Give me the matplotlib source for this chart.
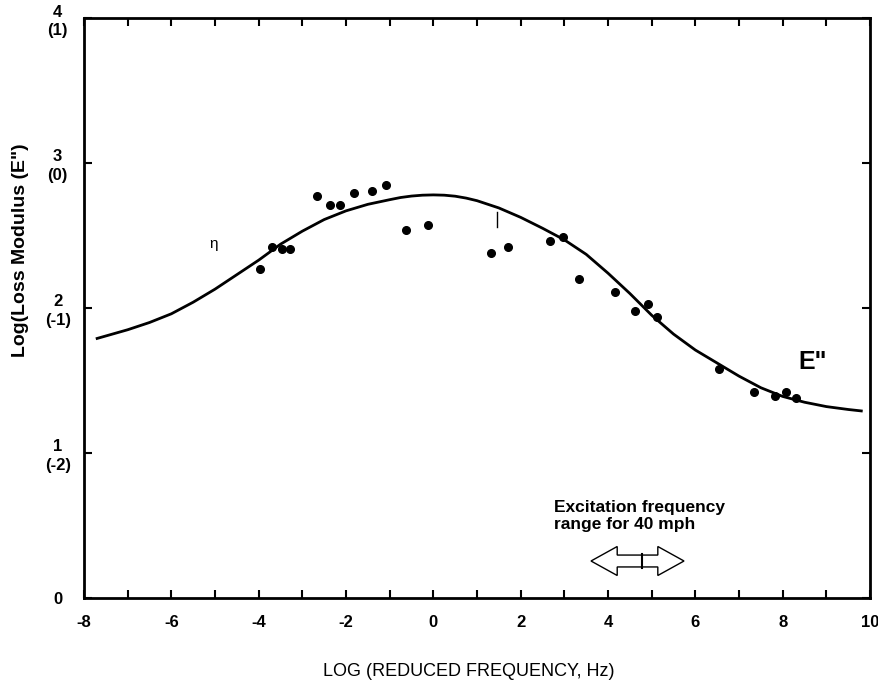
"""
loss_modulus_master_curve.py
Master curve of the loss modulus E'' against log reduced frequency,
with the measured points and the 40 mph excitation band marked.

Output: out.png
"""

import matplotlib
matplotlib.use("Agg")
import matplotlib.pyplot as plt
from matplotlib.patches import Polygon

# --- data --------------------------------------------------------------------
# measured points (log reduced frequency, log E'')
pts_logf = [-3.96, -3.69, -3.47, -3.29, -2.66, -2.36, -2.13, -1.82, -1.40,
            -1.08, -0.62, -0.12, 1.33, 1.72, 2.67, 2.97, 3.34, 4.16, 4.62,
            4.91, 5.11, 6.53, 7.35, 7.83, 8.08, 8.31]
pts_loge = [2.27, 2.42, 2.41, 2.41, 2.77, 2.71, 2.71, 2.79, 2.81,
            2.85, 2.54, 2.57, 2.38, 2.42, 2.46, 2.49, 2.20, 2.11, 1.98,
            2.03, 1.94, 1.58, 1.42, 1.39, 1.42, 1.38]

# fitted master curve
fit_logf = [-7.7, -7.0, -6.5, -6.0, -5.5, -5.0, -4.5, -4.0, -3.5, -3.0, -2.5,
            -2.0, -1.5, -1.0, -0.75, -0.5, -0.25, 0.0, 0.25, 0.5, 0.75, 1.0,
            1.5, 2.0, 2.5, 3.0, 3.5, 4.0, 4.5, 5.0, 5.5, 6.0, 6.5, 7.0, 7.5,
            8.0, 8.5, 9.0, 9.5, 9.8]
fit_loge = [1.79, 1.85, 1.90, 1.96, 2.04, 2.13, 2.23, 2.33, 2.44, 2.53, 2.61,
            2.67, 2.715, 2.747, 2.762, 2.772, 2.778, 2.780, 2.778, 2.771,
            2.758, 2.740, 2.69, 2.625, 2.55, 2.47, 2.37, 2.24, 2.10, 1.95,
            1.82, 1.71, 1.62, 1.53, 1.45, 1.39, 1.35, 1.32, 1.30, 1.29]

# axis ticks
x_ticks = list(range(-8, 11, 2))
y_ticks = [0, 1, 2, 3, 4]
y_tick_labels = ["0", "1\n(-2)", "2\n(-1)", "3\n(0)", "4\n(1)"]

# excitation frequency band for 40 mph (log Hz)
band_lo, band_hi, band_mid = 3.61, 5.74, 4.78

FONT = ["Liberation Sans", "DejaVu Sans"]
NARROW = ["Liberation Sans Narrow", "Liberation Sans", "DejaVu Sans"]
plt.rcParams["font.family"] = FONT

# --- figure -------------------------------------------------------------------
fig = plt.figure(figsize=(8.79, 6.82), dpi=100)
ax = fig.add_axes([0.0956, 0.1232, 0.8942, 0.8504])

ax.plot(fit_logf, fit_loge, color="black", lw=2.0, zorder=2)
ax.plot(pts_logf, pts_loge, "o", color="black", ms=5.5, zorder=3)

# little scan mark on the original
ax.plot([1.45, 1.45], [2.56, 2.66], color="black", lw=1.0)

ax.set_xlim(-8, 10)
ax.set_ylim(0, 4)
ax.set_xticks(x_ticks)
ax.set_xticks(range(-8, 11), minor=True)
ax.set_xticklabels([str(t) for t in x_ticks], fontsize=12, fontweight="bold")
ax.set_yticks(y_ticks)
ax.set_yticklabels(y_tick_labels, fontsize=12, fontweight="bold",
                   linespacing=1.3, ha="center")
ax.tick_params(axis="y", which="major", direction="in", length=6, width=1.5,
               right=True, pad=19)
ax.tick_params(axis="x", which="both", direction="in", length=6, width=1.5,
               top=True, pad=12)
for s in ax.spines.values():
    s.set_linewidth(2.0)

ax.set_xlabel("LOG (REDUCED FREQUENCY, Hz)", family=NARROW, fontsize=13)
ax.xaxis.set_label_coords(0.489, -0.112)
ax.set_ylabel('Log(Loss Modulus (E")', fontsize=14, fontweight="bold")
ax.yaxis.set_label_coords(-0.07, 0.6)

ax.text(-5.04, 2.44, "η", fontsize=11, ha="center", va="center")
ax.text(8.69, 1.63, 'E"', fontsize=18, fontweight="bold", ha="center",
        va="center")

# excitation band: open double arrow with a centre bar
ax.text(2.76, 0.565, "Excitation frequency\nrange for 40 mph", family=NARROW,
        fontsize=12.5, fontweight="bold", ha="left", va="center",
        linespacing=1.2)
yc, shaft, head, hl = 0.255, 0.041, 0.10, 0.6
outline = [(band_lo, yc), (band_lo + hl, yc + head), (band_lo + hl, yc + shaft),
           (band_hi - hl, yc + shaft), (band_hi - hl, yc + head), (band_hi, yc),
           (band_hi - hl, yc - head), (band_hi - hl, yc - shaft),
           (band_lo + hl, yc - shaft), (band_lo + hl, yc - head)]
ax.add_patch(Polygon(outline, closed=True, fc="white", ec="black", lw=1.0))
ax.plot([band_mid, band_mid], [yc - shaft - 0.01, yc + shaft + 0.01],
        color="black", lw=1.5)

fig.savefig("out.png", dpi=100)
